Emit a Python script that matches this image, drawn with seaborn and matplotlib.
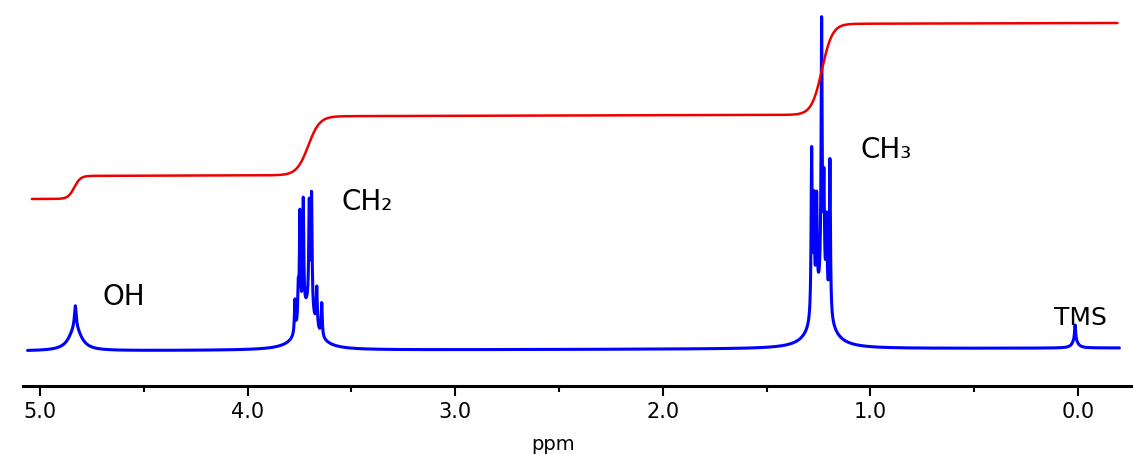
import numpy as np
import matplotlib
matplotlib.use('Agg')
import matplotlib.pyplot as plt
import seaborn as sns

# 1H NMR of ethanol: line positions (ppm), heights and half widths
peak_ppm = [4.830, 4.830,
            3.772, 3.756, 3.748, 3.732, 3.703, 3.692, 3.667, 3.643, 3.710,
            1.283, 1.272, 1.259, 1.235, 1.224, 1.211, 1.195, 1.237,
            0.014, 0.014]
peak_height = [22, 23,
               33, 35, 107, 113, 101, 114, 39, 33, 42,
               165, 105, 100, 265, 105, 80, 155, 55,
               15, 8]
peak_hwhm = [0.005, 0.035,
             0.003, 0.003, 0.003, 0.003, 0.003, 0.003, 0.003, 0.003, 0.045,
             0.003, 0.003, 0.003, 0.003, 0.003, 0.003, 0.003, 0.045,
             0.003, 0.015]
baseline_ends = [1, -2]          # at -0.20 and 5.06 ppm

# integral trace: start level, steps, slow drift
integral_start = 150
step_ppm = [4.835, 3.708, 1.233]
step_height = [23, 59, 91]
step_width = [0.03, 0.055, 0.05]
integral_drift = 3

labels = ['OH', 'CH\u2082', 'CH\u2083', 'TMS']

sns.set_style('white')
plt.rcParams['font.family'] = ['DejaVu Sans']
plt.rcParams['text.color'] = 'black'
plt.rcParams['xtick.color'] = 'black'
plt.rcParams['axes.labelcolor'] = 'black'

ppm = np.arange(5.06, -0.2, -0.0005)
spec = np.interp(ppm, [-0.2, 5.06], baseline_ends)
for c, h, w in zip(peak_ppm, peak_height, peak_hwhm):
    spec = spec + h * w**2 / ((ppm - c)**2 + w**2)

rppm = ppm[(ppm <= 5.04) & (ppm >= -0.19)]
integral = integral_start + np.interp(rppm, [-0.19, 5.04], [integral_drift, 0])
for c, h, s in zip(step_ppm, step_height, step_width):
    integral = integral + h * 0.5 * (1 + np.tanh((c - rppm) / s))

fig = plt.figure(figsize=(11.33, 4.56), dpi=100)
ax = fig.add_axes([23 / 1133, 69 / 456, 1 - 23 / 1133, 387 / 456])
sns.lineplot(x=ppm, y=spec, color='#0000ff', lw=2.2, sort=False, estimator=None, ax=ax)
sns.lineplot(x=rppm, y=integral, color='#ee0000', lw=1.8, sort=False, estimator=None, ax=ax)

ax.set_xlim(5.082, -0.265)
ax.set_ylim(-37, 350)
for side in ['left', 'right', 'top']:
    ax.spines[side].set_visible(False)
ax.spines['bottom'].set_linewidth(2.2)
ax.spines['bottom'].set_color('black')
ax.set_yticks([])
ax.set_xticks([5, 4, 3, 2, 1, 0])
ax.set_xticklabels(['5.0', '4.0', '3.0', '2.0', '1.0', '0.0'])
ax.set_xticks(np.arange(0.5, 5, 1.0), minor=True)
ax.tick_params(axis='x', which='major', direction='out', length=7, width=1.5,
               color='black', labelsize=15, labelcolor='black', pad=4, bottom=True)
ax.tick_params(axis='x', which='minor', direction='out', length=4, width=1.5,
               color='black', bottom=True)
ax.set_xlabel('ppm', fontsize=14, color='black')
ax.xaxis.set_label_coords(0.4775, -0.124)

ax.text(4.598, 45, labels[0], fontsize=20, color='black', ha='center', va='baseline')
ax.text(3.425, 140, labels[1], fontsize=20, color='black', ha='center', va='baseline')
ax.text(0.925, 192, labels[2], fontsize=20, color='black', ha='center', va='baseline')
ax.text(-0.01, 25, labels[3], fontsize=18, color='black', ha='center', va='baseline')

fig.savefig('out.png', dpi=100)
